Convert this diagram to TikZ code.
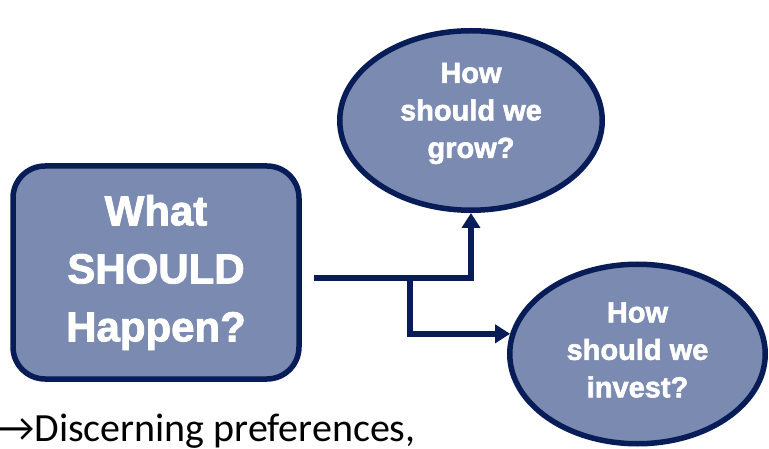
\documentclass[tikz,border=0pt]{standalone}
\usepackage{fontspec}
\setmainfont{Liberation Sans}[BoldFeatures={FakeBold=2}]
\newfontfamily\bodyfont{Carlito}
\usetikzlibrary{shapes.geometric,arrows.meta}
\definecolor{boxfill}{RGB}{122,138,176}
\definecolor{navy}{RGB}{8,28,88}

\begin{document}
\begin{tikzpicture}[x=1pt,y=-1pt,
  qbox/.style={draw=navy,line width=5.5pt,fill=boxfill,rounded corners=32pt,
    minimum width=286pt,minimum height=213pt},
  qoval/.style={ellipse,draw=navy,line width=5.5pt,fill=boxfill,inner sep=0pt},
  bigtxt/.style={text=white,font=\fontsize{42}{58}\selectfont\bfseries,align=center},
  smalltxt/.style={text=white,font=\fontsize{29}{37.5}\selectfont\bfseries,align=center},
  conn/.style={draw=navy,line width=5.5pt,-{Triangle[width=18pt,length=15pt]}}]
\useasboundingbox (0,0) rectangle (769,449);
\node [qbox,bigtxt] (what) at (156,272.5) {What\\SHOULD\\Happen?};
\node [qoval,minimum width=262.5pt,minimum height=179.5pt] (grow) at (471,120.5) {};
\node [smalltxt] (growtxt) at ([yshift=7pt]grow.center) {How\\should we\\grow?};
\node [qoval,minimum width=255.5pt,minimum height=179.5pt] (invest) at (637.5,354) {};
\node [smalltxt] (investtxt) at ([yshift=4pt]invest.center) {How\\should we\\invest?};
\node [anchor=base west,inner sep=0pt,font=\bodyfont\fontsize{40}{48}\selectfont] (pref) at (-2,441)
  {→Discerning preferences,};
% connectors
\coordinate (split) at (410,278);
\draw [conn] ([xshift=12pt,yshift=-5.5pt]what.east) -| (grow.south);
\draw [conn] (split) |- (invest.171);
\end{tikzpicture}
\end{document}
